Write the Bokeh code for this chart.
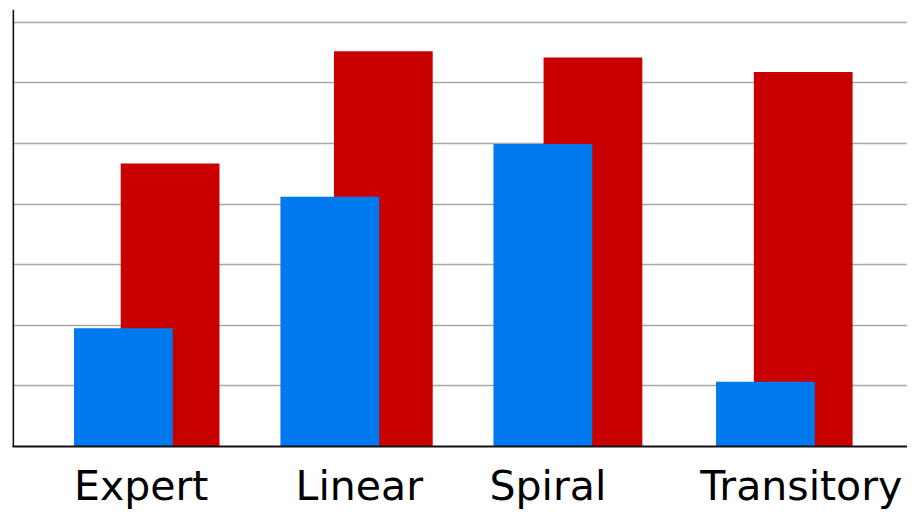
from bokeh.plotting import figure
from bokeh.models import (Range1d, FixedTicker, SingleIntervalTicker, Grid, Span,
                          CustomJSTickFormatter, ColumnDataSource)
from bokeh.embed import file_html
from bokeh.resources import INLINE

# ---- data ----
categories = ["Expert", "Linear", "Spiral", "Transitory"]
blue_values = [19.5, 41.2, 49.9, 10.7]
red_values = [46.7, 65.2, 64.2, 61.8]
grid_step = 10

# ---- layout (hand-placed offsets around each category slot) ----
idx = list(range(len(categories)))
blue_shift = [-0.102, -0.130, -0.127, -0.079]
red_shift = [0.118, 0.122, 0.109, 0.099]
label_shift = [-0.018, 0.009, -0.103, 0.090]
bar_width = 0.465
x_start, x_end = -0.624, 3.59

blue_src = ColumnDataSource(dict(x=[i + s for i, s in zip(idx, blue_shift)], top=blue_values))
red_src = ColumnDataSource(dict(x=[i + s for i, s in zip(idx, red_shift)], top=red_values))

p = figure(width=907, height=512, output_backend="svg", toolbar_location=None,
           x_range=Range1d(x_start, x_end), y_range=Range1d(0, 72.1),
           y_axis_location=None,
           min_border_left=12, min_border_right=0, min_border_top=9, min_border_bottom=66,
           background_fill_color="white", border_fill_color="white",
           outline_line_color=None)

for g in p.grid:
    g.visible = False

p.add_layout(Grid(dimension=1, ticker=SingleIntervalTicker(interval=grid_step),
                  grid_line_color="#a8a8a8", grid_line_width=1.6))

p.vbar(x="x", top="top", bottom=0, width=bar_width, source=red_src,
       fill_color="#c80000", line_color=None)
p.vbar(x="x", top="top", bottom=0, width=bar_width, source=blue_src,
       fill_color="#0079ee", line_color=None)

p.add_layout(Span(location=x_start + 0.003, dimension="height",
                  line_color="#111111", line_width=2))

ax = p.xaxis[0]
ax.ticker = FixedTicker(ticks=[i + s for i, s in zip(idx, label_shift)])
ax.formatter = CustomJSTickFormatter(args=dict(labels=categories), code="return labels[index];")
ax.major_tick_line_color = None
ax.minor_tick_line_color = None
ax.axis_line_color = "#111111"
ax.axis_line_width = 2
ax.major_label_text_font = "DejaVu Sans"
ax.major_label_text_font_size = "41px"
ax.major_label_text_color = "black"
ax.major_label_standoff = 9

open("out.html", "w").write(file_html(p, INLINE))
